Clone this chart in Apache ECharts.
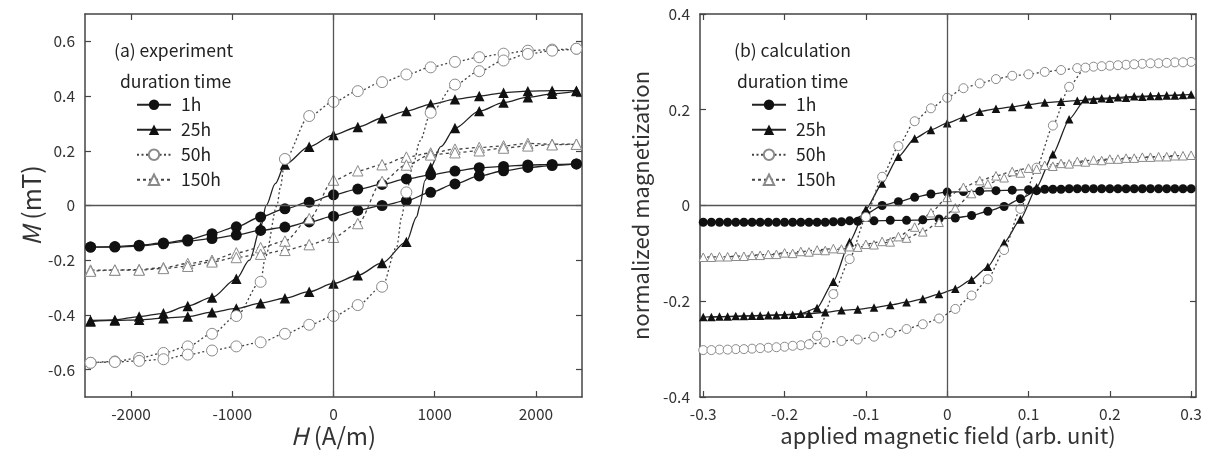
<!DOCTYPE html>
<html>
<head>
<meta charset="utf-8">
<script src="https://cdn.jsdelivr.net/npm/echarts@6/dist/echarts.min.js"></script>
<style>html,body{margin:0;padding:0;background:#fff;}#c{width:1205px;height:454px;}</style>
</head>
<body>
<div id="c"></div>
<script>
// ---------- (a) experiment ----------
const hExp = [-2400,-2160,-1920,-1680,-1440,-1200,-960,-720,-480,-240,0,240,480,720,960,1200,1440,1680,1920,2160,2400];
const hTicks = [-2000,-1000,0,1000,2000];
const mTicks = [-0.6,-0.4,-0.2,0,0.2,0.4,0.6];
// descending branch (from +H to -H), values listed in ascending H order
const exp1hDesc  = [-0.152,-0.150,-0.145,-0.137,-0.125,-0.103,-0.078,-0.042,-0.012,0.012,0.039,0.060,0.077,0.097,0.112,0.126,0.138,0.143,0.148,0.150,0.152];
const exp1hAsc   = [-0.152,-0.152,-0.148,-0.140,-0.130,-0.121,-0.108,-0.091,-0.079,-0.060,-0.039,-0.018,0.000,0.018,0.048,0.079,0.108,0.127,0.139,0.146,0.152];
const exp25hDesc = [-0.420,-0.418,-0.406,-0.394,-0.367,-0.336,-0.268,-0.080,0.150,0.215,0.258,0.287,0.319,0.345,0.370,0.388,0.400,0.412,0.418,0.420,0.420];
const exp25hAsc  = [-0.424,-0.420,-0.418,-0.412,-0.406,-0.390,-0.376,-0.357,-0.339,-0.315,-0.285,-0.255,-0.210,-0.133,0.139,0.283,0.345,0.376,0.396,0.408,0.418];
const exp50hDesc = [-0.575,-0.570,-0.557,-0.539,-0.515,-0.469,-0.404,-0.279,0.170,0.327,0.379,0.418,0.451,0.479,0.505,0.525,0.542,0.555,0.566,0.570,0.573];
const exp50hAsc  = [-0.575,-0.572,-0.568,-0.562,-0.545,-0.530,-0.515,-0.500,-0.469,-0.436,-0.404,-0.364,-0.297,0.048,0.339,0.442,0.491,0.530,0.554,0.566,0.573];
const exp150hDesc= [-0.236,-0.236,-0.234,-0.227,-0.212,-0.200,-0.173,-0.154,-0.130,-0.048,0.093,0.127,0.149,0.177,0.192,0.206,0.212,0.218,0.227,0.224,0.224];
const exp150hAsc = [-0.240,-0.236,-0.236,-0.230,-0.222,-0.206,-0.190,-0.178,-0.164,-0.143,-0.116,-0.066,0.088,0.148,0.185,0.193,0.200,0.210,0.218,0.222,0.224];
// points (no marker) in the steep parts
const exp25hDescCurve = [[-575,0.08],[-665,0.0],[-830,-0.20]];
const exp25hAscCurve  = [[821,-0.042],[854,0.0],[903,0.091],[1060,0.215]];
const exp50hDescCurve = [[-525,0.067],[-558,0.0],[-673,-0.188]];
const exp50hAscCurve  = [[624,-0.152],[673,-0.042],[788,0.152],[854,0.236]];

// ---------- (b) calculation ----------
const xEven = [-0.30,-0.28,-0.26,-0.24,-0.22,-0.20,-0.18,-0.16,-0.14,-0.12,-0.10,-0.08,-0.06,-0.04,-0.02,0,0.02,0.04,0.06,0.08,0.10,0.12,0.14,0.16,0.18,0.20,0.22,0.24,0.26,0.28,0.30];
const xOdd  = [-0.29,-0.27,-0.25,-0.23,-0.21,-0.19,-0.17,-0.15,-0.13,-0.11,-0.09,-0.07,-0.05,-0.03,-0.01,0.01,0.03,0.05,0.07,0.09,0.11,0.13,0.15,0.17,0.19,0.21,0.23,0.25,0.27,0.29];
const fieldTicks = [-0.3,-0.2,-0.1,0,0.1,0.2,0.3];
const magTicks = [-0.4,-0.2,0,0.2,0.4];
const calc1hDesc  = [-0.035,-0.035,-0.035,-0.035,-0.035,-0.035,-0.035,-0.035,-0.034,-0.032,-0.018,0.000,0.008,0.017,0.024,0.028,0.029,0.030,0.031,0.032,0.033,0.034,0.034,0.035,0.035,0.035,0.035,0.035,0.035,0.035,0.035];
const calc1hAsc   = [-0.035,-0.035,-0.035,-0.035,-0.035,-0.035,-0.035,-0.035,-0.034,-0.033,-0.032,-0.031,-0.031,-0.030,-0.028,-0.026,-0.021,-0.012,-0.002,0.014,0.031,0.034,0.035,0.035,0.035,0.035,0.035,0.035,0.035,0.035];
const calc25hDesc = [-0.233,-0.232,-0.231,-0.230,-0.229,-0.228,-0.226,-0.214,-0.159,-0.076,-0.008,0.046,0.102,0.140,0.158,0.172,0.184,0.196,0.202,0.206,0.211,0.215,0.217,0.219,0.221,0.223,0.225,0.227,0.229,0.230,0.232];
const calc25hAsc  = [-0.233,-0.232,-0.231,-0.230,-0.229,-0.228,-0.226,-0.223,-0.219,-0.217,-0.213,-0.208,-0.202,-0.195,-0.185,-0.174,-0.155,-0.128,-0.078,-0.029,0.038,0.107,0.180,0.222,0.224,0.226,0.228,0.229,0.230,0.231];
const calc50hDesc = [-0.302,-0.301,-0.300,-0.299,-0.297,-0.295,-0.292,-0.272,-0.185,-0.112,-0.024,0.060,0.124,0.176,0.203,0.225,0.245,0.255,0.264,0.271,0.274,0.279,0.283,0.287,0.290,0.292,0.294,0.296,0.297,0.299,0.300];
const calc50hAsc  = [-0.302,-0.301,-0.300,-0.298,-0.296,-0.293,-0.290,-0.286,-0.283,-0.280,-0.274,-0.266,-0.258,-0.248,-0.236,-0.216,-0.188,-0.154,-0.093,-0.007,0.079,0.167,0.248,0.288,0.291,0.293,0.295,0.297,0.298,0.299];
const calc150hDesc= [-0.108,-0.107,-0.106,-0.104,-0.102,-0.099,-0.096,-0.093,-0.090,-0.086,-0.081,-0.075,-0.065,-0.045,-0.015,0.017,0.038,0.052,0.062,0.071,0.078,0.084,0.088,0.092,0.095,0.097,0.099,0.101,0.102,0.104,0.105];
const calc150hAsc = [-0.108,-0.107,-0.106,-0.104,-0.102,-0.100,-0.097,-0.094,-0.091,-0.087,-0.082,-0.076,-0.068,-0.055,-0.035,-0.005,0.025,0.045,0.058,0.068,0.076,0.082,0.087,0.091,0.094,0.097,0.099,0.101,0.102,0.104];

const names = ['1h','25h','50h','150h'];

// ---------- build ----------
const FONT = "'Noto Sans CJK JP','Noto Sans',sans-serif";
const STY = {
  '1h':  {symbol:'circle',   fill:'#111', border:'#111', bw:0, line:'solid', lc:'#222'},
  '25h': {symbol:'triangle', fill:'#111', border:'#111', bw:0, line:'solid', lc:'#222'},
  '50h': {symbol:'circle',   fill:'#fff', border:'#8a8a8a', bw:1, line:[2,2.5], lc:'#444'},
  '150h':{symbol:'triangle', fill:'#fff', border:'#8a8a8a', bw:1, line:[3,3], lc:'#444'}
};
function branch(xs, ys, curve, descending){
  const pts = xs.map((x,i)=>({value:[x, ys[i]]}));
  (curve||[]).forEach(p=>pts.push({value:[p[0],p[1]], symbol:'none'}));
  pts.sort((a,b)=> descending ? b.value[0]-a.value[0] : a.value[0]-b.value[0]);
  return pts;
}
function ser(name, data, gi, size, smooth){
  const s = STY[name];
  return {
    type:'line', name, xAxisIndex: gi*2, yAxisIndex: gi*2, data,
    symbol: s.symbol, symbolSize: s.symbol==='triangle' ? size*0.95 : size,
    smooth: smooth, smoothMonotone: 'x',
    lineStyle:{color:s.lc, width:1.3, type:s.line},
    itemStyle:{color:s.fill, borderColor:s.border, borderWidth:s.bw},
    emphasis:{disabled:true}, z: 3
  };
}
const series = [];
const expSets = {
  '1h':[exp1hDesc,exp1hAsc,null,null],
  '25h':[exp25hDesc,exp25hAsc,exp25hDescCurve,exp25hAscCurve],
  '50h':[exp50hDesc,exp50hAsc,exp50hDescCurve,exp50hAscCurve],
  '150h':[exp150hDesc,exp150hAsc,null,null]
};
const calcSets = {
  '1h':[calc1hDesc,calc1hAsc],'25h':[calc25hDesc,calc25hAsc],
  '50h':[calc50hDesc,calc50hAsc],'150h':[calc150hDesc,calc150hAsc]
};
names.forEach(n=>{
  const e = expSets[n];
  series.push(ser(n, branch(hExp, e[0], e[2], true), 0, 11, 0.3));
  series.push(ser(n, branch(hExp, e[1], e[3], false), 0, 11, 0.3));
});
names.forEach(n=>{
  const c = calcSets[n];
  series.push(ser(n, branch(xEven, c[0], null, true), 1, 9, 0.2));
  series.push(ser(n, branch(xOdd, c[1], null, false), 1, 9, 0.2));
});
// zero lines
[0,1].forEach(gi=>{
  series.push({type:'line', xAxisIndex:gi*2, yAxisIndex:gi*2, data:[], z:2, silent:true,
    markLine:{silent:true, symbol:'none', animation:false, label:{show:false},
      lineStyle:{color:'#555', width:1.3, type:'solid'}, emphasis:{disabled:true},
      data:[{yAxis:0},{xAxis:0}]}});
});

const AX = '#444';
function xAx(gi, pos, min, max, ticks, fmt, name, nameSize, gap){
  const bottom = pos==='bottom';
  return {type:'value', gridIndex:gi, position:pos, min, max, scale:true,
    name: bottom ? name : '', nameLocation:'middle', nameGap: gap, nameMoveOverlap:false,
    nameTextStyle:{fontFamily:FONT, fontSize:nameSize, color:'#333',
      rich:{it:{fontStyle:'italic', fontSize:nameSize, fontFamily:FONT, color:'#333'}}},
    axisLine:{show:true, onZero:false, lineStyle:{color:AX, width:1.5}},
    axisTick:{show:true, inside:true, length:6, customValues:ticks, lineStyle:{color:AX, width:1.2}},
    axisLabel:{show:bottom, customValues:ticks, formatter:fmt, margin:9, fontFamily:FONT, fontSize:15.5, color:'#333'},
    splitLine:{show:false}};
}
function yAx(gi, pos, min, max, ticks, fmt, name, nameSize, gap){
  const left = pos==='left';
  return {type:'value', gridIndex:gi, position:pos, min, max, scale:true,
    name: left ? name : '', nameLocation:'middle', nameGap:gap, nameMoveOverlap:false,
    nameTextStyle:{fontFamily:FONT, fontSize:nameSize, color:'#333',
      rich:{it:{fontStyle:'italic', fontSize:nameSize, fontFamily:FONT, color:'#333'}}},
    axisLine:{show:true, onZero:false, lineStyle:{color:AX, width:1.5}},
    axisTick:{show:true, inside:true, length:6, customValues:ticks, lineStyle:{color:AX, width:1.2}},
    axisLabel:{show:left, customValues:ticks, formatter:fmt, margin:10, fontFamily:FONT, fontSize:15.5, color:'#333'},
    splitLine:{show:false}};
}
const f1 = v => v===0 ? '0' : v.toFixed(1);
const f0 = v => String(Math.round(v));

const titleStyle = {fontFamily:FONT, fontSize:17.5, fontWeight:'normal', color:'#222'};
const legendBase = {orient:'vertical', data:names, itemWidth:34, itemHeight:13, itemGap:7.5,
  textStyle:{fontFamily:FONT, fontSize:17.5, color:'#222', padding:[0,0,0,5]}, selectedMode:false};

const option = {
  animation:false,
  backgroundColor:'#fff',
  title:[
    {text:'(a) experiment', left:114, top:42, padding:0, textStyle:titleStyle},
    {text:'duration time', left:120, top:73, padding:0, textStyle:titleStyle},
    {text:'(b) calculation', left:734, top:42, padding:0, textStyle:titleStyle},
    {text:'duration time', left:737, top:73, padding:0, textStyle:titleStyle}
  ],
  legend:[
    Object.assign({left:136, top:96, padding:0}, legendBase),
    Object.assign({left:751, top:96, padding:0}, legendBase)
  ],
  grid:[
    {left:85, top:14, width:497, height:383, outerBoundsMode:'none', containLabel:false},
    {left:700, top:14, width:496, height:383, outerBoundsMode:'none', containLabel:false}
  ],
  xAxis:[
    xAx(0,'bottom',-2455,2455,hTicks,f0,'{it|H} (A/m)',24,27),
    xAx(0,'top',-2455,2455,hTicks,f0,'',24,27),
    xAx(1,'bottom',-0.304,0.306,fieldTicks,f1,'applied magnetic field (arb. unit)',22,28),
    xAx(1,'top',-0.304,0.306,fieldTicks,f1,'',22,28)
  ],
  yAxis:[
    yAx(0,'left',-0.7,0.7,mTicks,f1,'{it|M} (mT)',25,41),
    yAx(0,'right',-0.7,0.7,mTicks,f1,'',25,41),
    yAx(1,'left',-0.4,0.4,magTicks,f1,'normalized magnetization',22,48),
    yAx(1,'right',-0.4,0.4,magTicks,f1,'',22,48)
  ],
  series
};
const chart = echarts.init(document.getElementById('c'), null, {renderer:'canvas'});
chart.setOption(option);
</script>
</body>
</html>
